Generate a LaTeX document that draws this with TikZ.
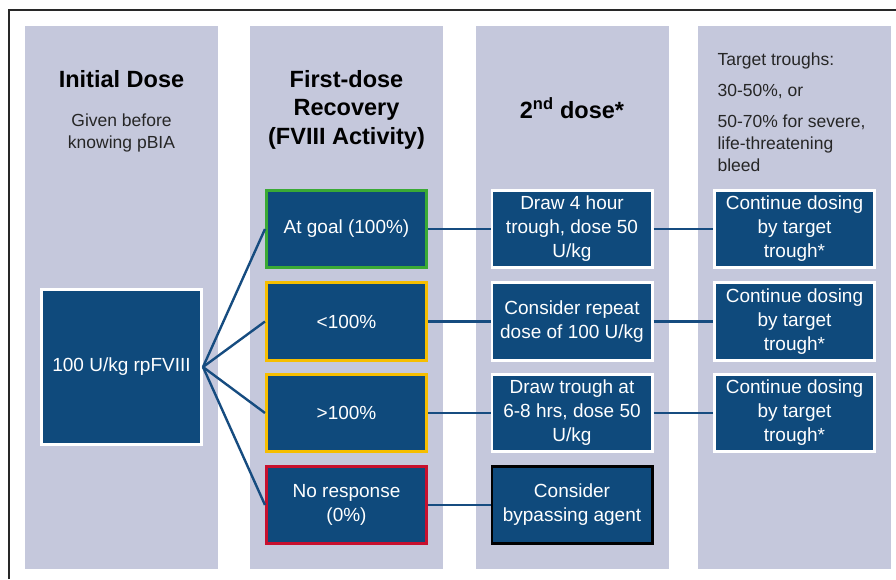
\documentclass[tikz,border=0pt]{standalone}
\usepackage{fontspec}
\setmainfont{Liberation Sans}
\usepackage{xcolor}
\usepackage{tikz}
\usetikzlibrary{calc,positioning}
\definecolor{lav}{RGB}{197,200,220}
\definecolor{boxblue}{RGB}{15,74,124}
\definecolor{linkblue}{RGB}{22,76,128}
\definecolor{goalgreen}{RGB}{58,170,53}
\definecolor{warnyellow}{RGB}{246,190,0}
\definecolor{stopred}{RGB}{200,16,46}
\definecolor{framegray}{RGB}{40,40,40}
\tikzset{
  colbg/.style={fill=lav, draw=none},
  dosebox/.style={rectangle, draw=white, line width=2.8pt, fill=boxblue, text=white, align=center,
    inner sep=0pt, minimum width=160.2pt, minimum height=77.7pt,
    font=\fontsize{19}{24}\selectfont},
  head/.style={align=center, font=\fontsize{23.5}{28.5}\selectfont\bfseries},
  sub/.style={align=center, text=black!85, font=\fontsize{17.5}{22}\selectfont},
  link/.style={draw=linkblue, line width=2.4pt}
}
\begin{document}
\begin{tikzpicture}[x=1pt,y=-1pt]
    \useasboundingbox (0,0) rectangle (896,579);
    \draw[line width=2.5pt, framegray] (9,579) -- (9,10) -- (896,10);
    % columns
    \fill[colbg] (25,26) rectangle (218,569);
    \fill[colbg] (250,26) rectangle (443,569);
    \fill[colbg] (476,26) rectangle (669,569);
    \fill[colbg] (698,26) rectangle (891,569);
    % headings
    \node (h1) [head] at (121.5,79) {Initial Dose};
    \node (s1) [sub] at (121.5,132.5) {Given before\\knowing pBIA};
    \node (h2) [head] at (346.5,109.5) {First-dose\\Recovery\\(FVIII Activity)};
    \node (h3) [head] at (572,108) {2\textsuperscript{nd} dose*};
    \node (t1) [sub, anchor=west] at (714,61) {Target troughs:};
    \node (t2) [sub, anchor=west] at (714,92) {30-50\%, or};
    \node (t3) [sub, anchor=north west, align=left] at (714,111.5) {50-70\% for severe,\\life-threatening\\bleed};
    % boxes
    \node (init) [dosebox, minimum height=155.7pt] at (121.5,367) {100 U/kg rpFVIII};
    \node (goal) [dosebox, draw=goalgreen] at (346.5,229) {At goal (100\%)};
    \node (low) [dosebox, draw=warnyellow] at (346.5,321.5) {<100\%};
    \node (high) [dosebox, draw=warnyellow] at (346.5,413) {>100\%};
    \node (none) [dosebox, draw=stopred] at (346.5,505) {No response\\(0\%)};
    \node (d1) [dosebox] at (572,229) {Draw 4 hour\\trough, dose 50\\U/kg};
    \node (d2) [dosebox] at (572,321.5) {Consider repeat\\dose of 100 U/kg};
    \node (d3) [dosebox] at (572,413) {Draw trough at\\6-8 hrs, dose 50\\U/kg};
    \node (d4) [dosebox, draw=black] at (572,505) {Consider\\bypassing agent};
    \node (c1) [dosebox] at (794.5,229) {Continue dosing\\by target\\trough*};
    \node (c2) [dosebox] at (794.5,321.5) {Continue dosing\\by target\\trough*};
    \node (c3) [dosebox] at (794.5,413) {Continue dosing\\by target\\trough*};
    % links
    \path[link] (init.east) -- (goal.west);
    \path[link] (init.east) -- (low.west);
    \path[link] (init.east) -- (high.west);
    \path[link] (init.east) -- (none.west);
    \path[link] (goal) -- (d1);
    \path[link] (low) -- (d2);
    \path[link] (high) -- (d3);
    \path[link] (none) -- (d4);
    \path[link] (d1) -- (c1);
    \path[link] (d2) -- (c2);
    \path[link] (d3) -- (c3);
\end{tikzpicture}
\end{document}
